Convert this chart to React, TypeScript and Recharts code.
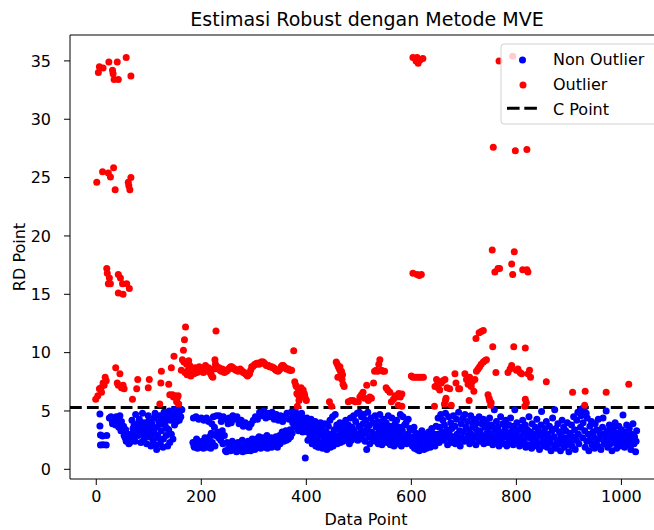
import { ReferenceLine, Scatter, ScatterChart, XAxis, YAxis } from 'recharts'

// [data point index, RD value]
const nonOutlierA: [number, number][] = [
  [7, 4.74], [7, 3.71], [8, 2.94], [8, 2.08], [12, 2.85], [13, 2.1], [19, 2.08], [20, 2.9],
  [25, 4.4], [28, 4.5], [30, 4.2], [31, 3.9], [33, 4.1], [35, 4.3], [37, 3.8], [38, 4.5], [40, 3.9], [42, 4.0],
  [43, 3.6], [45, 4.6], [47, 3.3], [48, 4.1], [50, 3.3], [52, 3.7], [53, 2.9], [55, 2.7], [56, 3.4], [57, 2.4],
  [59, 3.0], [60, 2.5], [62, 2.2], [64, 2.3],
  [66, 3.0], [67, 2.5], [68, 4.2], [70, 3.5], [72, 3.8], [73, 2.9], [74, 2.4], [75, 4.7], [77, 3.2], [79, 3.9],
  [80, 2.9], [81, 3.4], [82, 4.3], [83, 3.6], [85, 2.3], [86, 3.1], [87, 4.0], [88, 4.8], [90, 3.4], [91, 2.6],
  [92, 3.9], [93, 4.0], [95, 3.0], [96, 2.2], [97, 3.5], [98, 3.7], [99, 4.6], [100, 4.1], [101, 2.8], [103, 3.3],
  [104, 2.0], [105, 3.0], [106, 3.9], [108, 2.5], [109, 3.4], [110, 4.4], [111, 3.1], [112, 4.8], [113, 2.1],
  [115, 1.7], [116, 3.6], [117, 2.9], [118, 2.7], [119, 4.1],
  [121, 4.6], [122, 2.2], [123, 3.9], [124, 3.3], [126, 4.3], [127, 1.9], [128, 2.6], [129, 4.9], [130, 4.0],
  [131, 3.8], [133, 2.9], [134, 4.5], [135, 3.5], [136, 2.0], [138, 3.4], [139, 5.0], [140, 2.3], [141, 4.2],
  [143, 3.0], [144, 4.8], [145, 4.7], [146, 2.6], [148, 5.1], [149, 3.8], [150, 4.4], [152, 4.9], [153, 4.1],
  [154, 5.2], [155, 4.3], [157, 4.8], [158, 4.2], [159, 5.0], [161, 4.5], [163, 5.1],
]

const nonOutlierB: [number, number][] = [
  [184, 2.3], [185, 4.4], [186, 2.0], [187, 1.9], [189, 2.1], [190, 4.5], [191, 2.6], [192, 2.5], [193, 1.8],
  [195, 4.3], [196, 2.3], [197, 2.2], [198, 1.9], [200, 4.4], [201, 2.1], [202, 2.4], [204, 1.8], [205, 4.2],
  [206, 2.2], [207, 2.7], [209, 2.0], [210, 4.4], [211, 1.9], [212, 2.5], [214, 4.1], [215, 2.3], [216, 2.8],
  [218, 1.8], [219, 3.1], [220, 3.9], [221, 2.3], [223, 4.5], [225, 3.6], [226, 2.0], [227, 2.9], [229, 4.6],
  [231, 3.2], [233, 2.7], [234, 4.6], [236, 3.0], [237, 2.5], [238, 4.1], [240, 3.3], [241, 2.2], [242, 4.5],
  [244, 2.9], [246, 1.6], [247, 4.3], [248, 1.5], [249, 2.3], [251, 3.9], [252, 1.8], [253, 4.4], [255, 2.1],
  [256, 1.6], [257, 4.0], [259, 2.4], [260, 4.6], [262, 1.7], [263, 2.2], [264, 4.3], [266, 1.9], [267, 1.5],
  [268, 4.5], [270, 2.3], [271, 1.6], [272, 3.9], [274, 2.0], [275, 1.7], [276, 4.2], [278, 2.5], [279, 1.5],
  [280, 3.7], [282, 1.9], [283, 2.2], [284, 4.0], [286, 1.6], [287, 3.8], [289, 2.4], [290, 1.8], [291, 3.6],
  [293, 2.1], [294, 1.6], [295, 3.9], [297, 2.6], [298, 1.9], [299, 4.2],
  [301, 2.2], [302, 1.7], [303, 4.5], [305, 2.6], [306, 1.9], [307, 4.3], [309, 2.1], [310, 2.8], [311, 4.9],
  [313, 1.8], [314, 2.4], [315, 4.6], [317, 2.7], [318, 2.0], [319, 5.0], [321, 1.9], [322, 2.5], [323, 4.4],
  [325, 2.9], [326, 1.8], [327, 4.8], [329, 2.3], [330, 2.0], [331, 4.5], [333, 2.7], [334, 1.9], [335, 4.9],
  [337, 2.4], [338, 2.2], [339, 4.3], [341, 2.0], [342, 2.8], [343, 4.7], [345, 1.9], [346, 2.5], [347, 4.2],
  [349, 2.9], [350, 2.2], [351, 4.6], [353, 2.6], [354, 3.2], [355, 4.1], [357, 2.4], [358, 2.9], [359, 4.5],
  [361, 3.3], [362, 2.5], [363, 4.8], [365, 3.0], [366, 2.6], [367, 4.3], [369, 3.4], [370, 2.8], [371, 4.9],
  [373, 3.1], [374, 4.0], [375, 4.6], [377, 3.6], [378, 4.3], [379, 5.0], [381, 3.9], [382, 4.7], [383, 4.2],
  [385, 3.3], [386, 4.5], [387, 3.8], [389, 4.1], [390, 3.5], [391, 4.8], [393, 3.2], [394, 4.4], [395, 3.7],
  [397, 4.0], [398, 0.97], [399, 3.4],
]

const nonOutlierC: [number, number][] = [
  [401, 4.4], [402, 3.2], [403, 2.5], [405, 4.0], [406, 3.6], [407, 2.8], [409, 4.3], [410, 3.0], [411, 2.2],
  [413, 3.8], [414, 3.4], [415, 2.6], [417, 4.1], [418, 2.0], [419, 3.1], [421, 3.6], [422, 2.4], [423, 1.9],
  [425, 3.3], [426, 2.9], [427, 4.0], [429, 2.2], [430, 3.5], [431, 1.8], [433, 3.0], [434, 2.5], [435, 3.9],
  [437, 2.1], [438, 3.2], [439, 1.7], [441, 2.8], [442, 3.7], [443, 2.3], [445, 4.2], [446, 1.9], [447, 3.0],
  [449, 2.6], [450, 4.5], [451, 2.0], [453, 3.4], [454, 2.4], [455, 4.7], [457, 2.9], [458, 3.8], [459, 2.2],
  [461, 3.5], [462, 2.7], [464, 4.0], [465, 2.3], [466, 3.2], [468, 3.9], [469, 2.9], [470, 2.4], [472, 3.6],
  [473, 3.0], [475, 4.2], [476, 2.6], [477, 3.4], [479, 2.8], [480, 3.8], [482, 2.2], [483, 3.1], [484, 4.4],
  [486, 2.5], [487, 3.6], [489, 2.9], [490, 4.6], [491, 3.3], [493, 2.7], [494, 4.1], [495, 3.0], [497, 4.8],
  [498, 2.5], [500, 3.7], [501, 4.9], [502, 2.9], [504, 3.4], [505, 4.5], [507, 2.6], [508, 3.9], [509, 4.7],
  [511, 3.1], [512, 2.4], [513, 4.2], [515, 1.7], [516, 3.5], [517, 4.9], [519, 2.8], [520, 3.8], [521, 2.2],
  [523, 4.4], [524, 3.2], [526, 2.6], [527, 4.0], [529, 3.0],
  [531, 4.6], [532, 2.4], [533, 3.6], [535, 2.9], [536, 4.1], [537, 2.2], [539, 3.3], [540, 4.7], [541, 2.7],
  [543, 3.8], [544, 2.1], [545, 3.0], [547, 4.3], [548, 2.5], [549, 3.5], [551, 2.8], [552, 4.0], [554, 2.3],
  [555, 3.2], [556, 4.6], [558, 2.6], [559, 3.7], [560, 2.1], [562, 3.0], [563, 4.4], [565, 2.4], [566, 3.4],
  [567, 2.0], [569, 3.9], [570, 2.7], [572, 4.2], [573, 2.2], [574, 3.1], [576, 2.5], [577, 3.6], [579, 4.7],
  [580, 2.9], [581, 2.0], [583, 3.3], [584, 4.5], [586, 2.4], [587, 3.8], [588, 2.7], [590, 4.0], [591, 2.2],
  [593, 3.0], [594, 4.3], [596, 2.6], [597, 3.5], [599, 2.3],
  [600, 3.4], [602, 2.0], [603, 2.8], [605, 3.6], [606, 1.8], [608, 2.5], [609, 3.1], [611, 1.7], [612, 2.3],
  [614, 2.9], [615, 1.6], [617, 2.1], [618, 2.6], [620, 3.3], [621, 1.9], [623, 2.4], [624, 1.7], [626, 3.0],
  [627, 2.2], [629, 1.8], [630, 2.7], [632, 2.0], [633, 3.2], [635, 2.4], [636, 1.9], [638, 2.8], [639, 3.5],
  [641, 2.2], [642, 2.6], [644, 3.0], [645, 2.0], [647, 3.7], [648, 2.5],
]

const nonOutlierD: [number, number][] = [
  [650, 3.0], [651, 4.4], [653, 2.3], [654, 3.6], [656, 4.7], [657, 2.7], [659, 3.2], [660, 4.2], [662, 2.5],
  [663, 3.8], [665, 4.8], [666, 2.9], [668, 3.4], [669, 2.1], [671, 4.5], [672, 3.1], [674, 2.6], [675, 4.0],
  [677, 3.5], [678, 2.3], [680, 4.6], [681, 2.8], [683, 3.7], [684, 2.2], [686, 4.3], [687, 3.0], [689, 2.5],
  [690, 4.9], [692, 3.3], [693, 2.0], [695, 3.9], [696, 2.7], [698, 4.4], [699, 3.2], [701, 2.4], [702, 4.7],
  [704, 3.6], [705, 2.6], [707, 4.1], [708, 2.9], [710, 3.4], [711, 2.2], [713, 4.6], [714, 3.0], [716, 2.5],
  [717, 3.8], [719, 4.3], [720, 2.8], [722, 3.5], [723, 2.1], [725, 4.0], [726, 3.1], [728, 2.6], [729, 4.5],
  [731, 3.3], [732, 2.4], [734, 3.9], [735, 2.9], [737, 4.3], [738, 2.2], [740, 3.6], [741, 2.7], [743, 4.0],
  [744, 3.1], [746, 2.3], [747, 3.5], [749, 4.4], [750, 2.6], [752, 3.0], [753, 3.8], [755, 2.1], [756, 2.8],
  [758, 5.1], [759, 3.4], [761, 2.4], [762, 4.1], [764, 2.9], [765, 3.6], [767, 2.0], [768, 3.2], [770, 4.5],
  [771, 2.5], [773, 3.0], [774, 3.9], [776, 2.2], [777, 2.8], [779, 3.5], [780, 4.2], [782, 2.0], [783, 3.1],
  [785, 2.6], [786, 3.8], [788, 2.3], [789, 4.4], [791, 2.9], [792, 3.3], [794, 2.1], [795, 3.7], [797, 5.1],
  [798, 2.6], [800, 3.0], [801, 4.0], [803, 2.4], [804, 3.4], [806, 2.0], [807, 2.8], [809, 3.6],
]

const nonOutlierE: [number, number][] = [
  [811, 2.2], [812, 4.2], [814, 3.1], [815, 2.5], [817, 3.8], [818, 1.9], [820, 2.9], [821, 3.4], [823, 2.1],
  [824, 4.5], [826, 2.7], [827, 3.2], [829, 1.8], [830, 3.9], [832, 2.4], [833, 3.0], [835, 2.0], [836, 3.6],
  [838, 2.6], [839, 4.3], [841, 2.2], [842, 3.3], [844, 1.7], [845, 2.9], [847, 3.8], [848, 4.95], [850, 2.4],
  [851, 3.1], [853, 2.0], [854, 3.5], [856, 2.7], [857, 4.1], [859, 1.9], [860, 3.0], [862, 2.3], [863, 3.7],
  [865, 2.6], [866, 1.6], [868, 3.3], [869, 4.4], [871, 2.1], [872, 2.8], [873, 5.1], [875, 3.5], [876, 1.8],
  [878, 2.5], [879, 3.9], [881, 2.2], [882, 3.2], [884, 1.6], [885, 2.9], [887, 4.2], [888, 2.4], [890, 3.6],
  [891, 1.9], [893, 2.7], [894, 3.3], [896, 2.1], [897, 4.0], [899, 2.6], [900, 1.5], [902, 3.1], [903, 2.3],
  [905, 3.8], [906, 2.0], [908, 2.8], [909, 4.5], [911, 3.4], [912, 1.7], [914, 2.5], [915, 4.2], [917, 4.9],
  [918, 3.0], [919, 2.2], [921, 5.0], [922, 3.6], [923, 4.6], [925, 5.2], [926, 2.7], [927, 4.0], [929, 5.1],
  [930, 3.3], [931, 1.9], [933, 4.8], [934, 2.4], [935, 4.4], [937, 3.0], [938, 1.6], [940, 3.7], [941, 2.6],
  [943, 4.1], [944, 2.1], [946, 3.2], [947, 2.8], [949, 1.8], [950, 3.9], [952, 2.3], [953, 3.4], [955, 2.0],
  [956, 4.3], [958, 2.6], [959, 3.1], [961, 1.7], [962, 2.9], [964, 3.6], [965, 4.4], [967, 2.2], [968, 3.0],
  [970, 2.5], [971, 5.0], [973, 3.3], [974, 1.9], [976, 2.7], [977, 3.8], [979, 2.2], [980, 3.2], [982, 1.6],
  [983, 2.8], [985, 3.5], [986, 2.3], [988, 4.0], [989, 2.6], [991, 1.8], [992, 3.1], [994, 2.4], [995, 3.7],
  [997, 2.0], [998, 2.9], [1000, 3.4], [1001, 2.2], [1003, 4.66], [1004, 2.7], [1006, 1.9], [1007, 3.2],
  [1009, 2.5], [1010, 3.8], [1012, 2.1], [1013, 2.9], [1015, 3.5], [1016, 2.3], [1018, 1.7], [1019, 3.0],
  [1021, 2.6], [1022, 3.9], [1024, 2.2], [1025, 2.8], [1027, 1.5], [1028, 2.4], [1029, 3.3],
]

const outlierTop: [number, number][] = [
  [4, 34.0], [6, 34.5], [13, 34.4], [24, 34.9], [31, 34.2], [32, 33.9], [34, 33.4], [40, 34.9], [42, 33.4],
  [57, 35.3], [66, 33.7],
  [1, 24.6], [12, 25.5], [23, 25.4], [27, 25.05], [33, 25.85], [36, 23.95], [61, 24.6], [62, 24.3], [64, 23.95],
  [66, 25.0],
  [20, 17.2], [21, 16.8], [25, 16.4], [27, 15.9], [23, 15.9], [42, 16.7], [46, 16.4], [50, 15.9], [58, 15.9],
  [63, 15.5], [42, 15.1], [51, 15.0],
  [603, 35.3], [609, 35.0], [611, 35.3], [613, 34.8], [617, 35.1], [622, 35.2],
  [603, 16.8], [611, 16.7], [615, 16.6], [619, 16.7],
  [767, 35.0], [793, 35.4], [756, 27.6], [798, 27.3], [820, 27.4],
  [754, 18.8], [796, 18.65], [791, 17.6], [759, 16.9], [765, 17.2], [768, 17.2], [793, 16.7], [812, 17.1],
  [820, 17.1], [822, 16.9],
]

const outlierBandLeft: [number, number][] = [
  [-1, 6.0], [3, 6.3], [6, 6.9], [9, 7.0], [10, 6.6], [13, 7.4], [15, 7.2], [17, 7.9], [19, 7.6],
  [37, 8.7], [40, 7.4], [42, 7.2], [45, 8.2], [48, 7.0], [51, 7.2], [53, 6.9], [69, 6.0], [77, 6.9], [79, 7.7],
  [99, 7.0], [101, 7.7], [121, 5.6], [123, 7.4], [124, 8.4], [138, 7.3], [140, 6.4], [143, 8.7], [145, 6.4],
  [147, 6.2], [148, 9.7], [150, 6.3], [153, 5.8], [154, 6.1], [156, 6.3], [157, 5.6],
  [162, 8.5], [164, 9.4], [166, 10.2], [167, 9.2], [168, 11.1], [169, 8.3], [170, 12.2], [172, 9.0], [173, 8.1],
  [175, 8.5], [176, 9.3], [178, 8.9], [180, 8.0], [182, 8.6], [184, 8.4], [186, 8.2], [188, 8.7], [190, 8.6],
  [192, 8.3], [194, 8.5], [196, 8.8], [198, 8.4], [200, 8.6],
  [202, 8.5], [204, 8.3], [206, 8.7], [208, 8.9], [210, 8.6], [212, 8.4], [214, 8.7], [216, 8.6], [218, 8.2],
  [220, 8.0], [222, 7.9], [224, 8.6], [226, 9.4], [227, 9.0], [228, 11.85], [230, 8.8], [232, 8.6], [234, 8.7],
  [236, 8.5], [238, 8.4], [240, 8.6], [242, 8.4], [244, 8.3], [246, 8.5], [248, 8.4], [250, 8.5],
  [252, 8.6], [254, 8.7], [256, 8.8], [258, 8.8], [260, 8.7], [262, 8.6], [264, 8.6], [266, 8.5], [268, 8.5],
  [270, 8.4], [272, 8.5], [274, 8.6], [276, 8.5], [278, 8.4], [280, 8.3], [282, 8.3], [284, 8.2], [286, 8.1],
  [288, 8.0], [290, 8.1], [292, 8.2], [294, 8.5], [296, 8.8], [298, 8.8], [300, 8.9],
  [302, 9.0], [304, 9.0], [306, 9.1], [308, 9.1], [310, 9.0], [312, 9.1], [314, 9.2], [316, 9.2], [318, 9.2],
  [320, 9.1], [322, 9.0], [324, 8.9], [326, 8.9], [328, 8.9], [330, 8.8], [332, 8.8], [334, 8.8], [336, 8.7],
  [338, 8.7], [340, 8.6], [342, 8.5], [344, 8.5], [346, 8.4], [348, 8.5], [350, 8.6], [352, 8.8], [354, 8.9],
  [356, 8.9], [358, 8.8], [360, 8.7], [362, 8.6], [364, 8.6], [366, 8.6], [368, 8.5], [370, 8.5], [372, 8.5],
  [376, 10.17], [378, 7.5], [380, 7.2], [381, 7.1], [382, 6.5], [383, 5.4], [384, 6.4], [385, 6.9], [386, 5.9],
  [387, 6.9], [388, 6.2], [390, 7.0], [392, 6.7], [394, 6.8], [396, 6.5], [397, 6.3], [399, 6.0], [400, 5.9],
]

const outlierBandRight: [number, number][] = [
  [444, 5.8], [448, 5.4], [457, 9.2], [459, 9.0], [460, 7.9], [461, 8.8], [463, 8.6], [464, 8.8], [465, 8.4],
  [466, 8.0], [467, 8.4], [468, 7.7], [469, 8.1], [470, 7.3], [472, 7.1],
  [480, 5.8], [485, 5.9], [489, 5.9], [493, 5.8], [499, 5.8], [502, 6.2], [505, 6.4], [508, 6.6], [511, 6.1],
  [515, 7.2], [518, 5.9], [521, 6.2], [524, 6.1], [528, 7.4], [530, 8.4], [533, 8.5], [536, 8.4], [538, 9.0],
  [540, 9.4], [543, 8.5], [546, 8.4], [549, 8.4],
  [552, 7.0], [555, 6.8], [559, 6.6], [562, 5.8], [566, 6.0], [569, 6.3], [572, 6.2], [575, 5.5], [576, 6.5],
  [579, 6.2], [582, 6.45], [582, 5.4],
  [600, 8.0], [603, 7.9], [607, 7.9], [611, 7.9], [615, 7.9], [619, 7.9], [623, 7.9],
  [644, 5.4], [645, 7.1], [648, 7.7], [650, 7.3], [651, 7.0], [654, 6.8], [657, 7.4], [660, 7.6], [663, 5.6],
  [664, 7.7], [665, 5.9], [666, 6.1], [668, 7.0], [673, 6.9], [676, 5.5], [683, 8.2], [685, 7.4], [690, 6.9],
  [692, 6.9], [702, 8.2], [705, 7.7], [708, 7.3], [710, 5.9], [711, 7.9], [714, 7.1], [716, 7.5], [719, 6.7],
  [721, 7.7], [724, 8.4], [727, 8.6], [730, 8.8], [733, 9.0], [737, 9.2], [740, 9.3], [743, 9.4],
  [723, 11.2], [729, 11.7], [733, 11.8], [737, 11.9], [746, 6.4], [748, 6.1], [749, 5.9], [751, 5.5],
  [752, 5.7], [755, 10.5], [761, 8.3],
  [784, 8.3], [788, 8.6], [791, 8.9], [795, 10.5], [800, 8.5], [803, 8.6], [807, 8.3], [810, 8.2], [817, 10.4],
  [822, 8.2], [825, 8.5], [827, 7.9], [817, 6.0], [816, 5.4], [819, 5.7],
  [857, 7.5], [907, 6.6], [931, 6.7], [930, 5.5], [971, 6.6], [1014, 7.3],
]

const cPoint = 5.3
const xTicks = [0, 200, 400, 600, 800, 1000]
const yTicks = [0, 5, 10, 15, 20, 25, 30, 35]
const xDomain: [number, number] = [-50, 1083]
const yDomain: [number, number] = [-0.83, 37.22]

const toPoints = (...groups: [number, number][][]) => groups.flat().map(([x, y]) => ({ x, y }))
const nonOutliers = toPoints(nonOutlierA, nonOutlierB, nonOutlierC, nonOutlierD, nonOutlierE)
const outliers = toPoints(outlierTop, outlierBandLeft, outlierBandRight)

const font = '"DejaVu Sans", sans-serif'
const tickStyle = { fontSize: 16, fill: '#000', fontFamily: font }

const dot = (color: string) => (p: any) => <circle cx={p.cx} cy={p.cy} r={3.5} fill={color} />

export default function App() {
  return (
    <div
      style={{
        position: 'absolute',
        left: 0,
        top: 0,
        width: 654,
        height: 530,
        overflow: 'hidden',
        background: '#fff',
        fontFamily: font,
      }}
    >
      <ScatterChart width={680} height={530} margin={{ top: 35, right: 15, bottom: 0, left: 0 }}>
        <XAxis
          type="number"
          dataKey="x"
          domain={xDomain}
          ticks={xTicks}
          height={51}
          tick={tickStyle}
          tickSize={6}
          tickMargin={6}
          axisLine={{ stroke: '#000' }}
          tickLine={{ stroke: '#000' }}
        />
        <YAxis
          type="number"
          dataKey="y"
          domain={yDomain}
          ticks={yTicks}
          width={70}
          tick={tickStyle}
          tickSize={6}
          tickMargin={13}
          axisLine={{ stroke: '#000' }}
          tickLine={{ stroke: '#000' }}
        />
        <Scatter data={nonOutliers} fill="#0000ff" shape={dot('#0000ff')} isAnimationActive={false} />
        <Scatter data={outliers} fill="#ff0000" shape={dot('#ff0000')} isAnimationActive={false} />
        <ReferenceLine y={yDomain[1]} stroke="#000" strokeWidth={1} />
        <ReferenceLine y={cPoint} stroke="#000" strokeWidth={3} strokeDasharray="11.8 5.1" />
      </ScatterChart>
      <svg
        width={654}
        height={530}
        style={{ position: 'absolute', left: 0, top: 0, pointerEvents: 'none' }}
        fontFamily={font}
      >
        <text x={367} y={26} textAnchor="middle" fontSize={19} fill="#000">
          Estimasi Robust dengan Metode MVE
        </text>
        <text x={366} y={525} textAnchor="middle" fontSize={16} fill="#000">
          Data Point
        </text>
        <text x={25} y={257} textAnchor="middle" fontSize={16} fill="#000" transform="rotate(-90 25 257)">
          RD Point
        </text>
        <rect x={501} y={44} width={170} height={80} rx={3} fill="#fff" fillOpacity={0.8} stroke="#d0d0d0" />
        <circle cx={522.5} cy={60} r={3.5} fill="#0000ff" />
        <text x={553} y={65} fontSize={16} fill="#000">Non Outlier</text>
        <circle cx={523} cy={85} r={3.5} fill="#ff0000" />
        <text x={553} y={90} fontSize={16} fill="#000">Outlier</text>
        <line x1={507} x2={537} y1={108.3} y2={108.3} stroke="#000" strokeWidth={3} strokeDasharray="12.6 4.7" />
        <text x={553} y={115} fontSize={16} fill="#000">C Point</text>
      </svg>
    </div>
  )
}
